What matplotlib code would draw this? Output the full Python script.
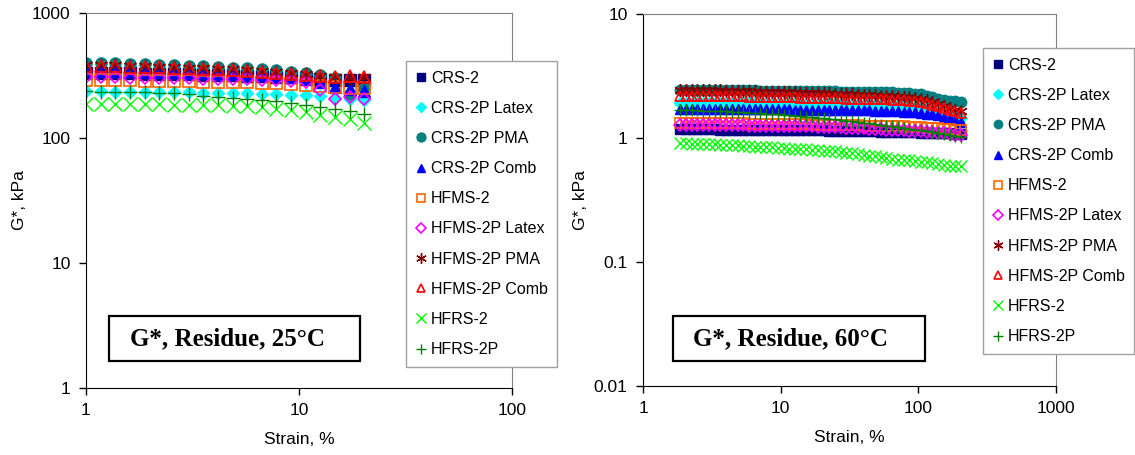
import matplotlib
matplotlib.use("Agg")
import matplotlib.pyplot as plt
from matplotlib.patches import Rectangle
from matplotlib import ticker

plt.rcParams['font.family'] = ['Liberation Sans', 'DejaVu Sans']

# series names (same order as the legend)
names = ["CRS-2", "CRS-2P Latex", "CRS-2P PMA", "CRS-2P Comb", "HFMS-2",
         "HFMS-2P Latex", "HFMS-2P PMA", "HFMS-2P Comb", "HFRS-2", "HFRS-2P"]

# ---- 25 C data (strain %, G* kPa) ----
strain_25 = [1.00, 1.17, 1.37, 1.61, 1.89, 2.21, 2.59, 3.03, 3.55, 4.16,
             4.88, 5.71, 6.69, 7.84, 9.19, 10.8, 12.6, 14.8, 17.3, 20.3]

crs2_25 = [332, 331, 330, 329, 328, 327, 326, 324, 322, 320, 318, 316, 313, 310, 306, 302, 298, 292, 290, 292]
crs2p_latex_25 = [236, 236, 235, 235, 234, 234, 233, 232, 231, 230, 229, 228, 226, 224, 222, 219, 215, 208, 204, 200]
crs2p_pma_25 = [400, 398, 396, 393, 390, 386, 383, 378, 374, 370, 366, 360, 354, 348, 340, 332, 318, 300, 225, 250]
crs2p_comb_25 = [345, 344, 343, 342, 340, 338, 336, 334, 331, 328, 325, 321, 317, 312, 306, 298, 280, 255, 245, 238]
hfms2_25 = [292, 291, 290, 289, 288, 287, 286, 285, 283, 282, 280, 278, 276, 274, 271, 267, 262, 258, 252, 250]
hfms2p_latex_25 = [306, 305, 305, 304, 303, 302, 301, 300, 299, 298, 296, 294, 292, 289, 286, 280, 240, 207, 214, 204]
hfms2p_pma_25 = [385, 383, 381, 378, 376, 373, 370, 366, 362, 358, 354, 349, 343, 337, 330, 323, 315, 305, 300, 305]
hfms2p_comb_25 = [378, 377, 375, 373, 371, 368, 365, 362, 358, 354, 350, 345, 340, 334, 328, 322, 316, 310, 314, 308]
hfrs2_25 = [188, 188, 187, 187, 186, 186, 185, 185, 184, 183, 181, 179, 177, 172, 167, 160, 154, 148, 141, 132]
hfrs2p_25 = [236, 235, 235, 234, 233, 229, 227, 224, 218, 214, 210, 205, 200, 196, 192, 184, 178, 170, 163, 156]

# ---- 60 C data ----
strain_60 = [1.86, 2.05, 2.26, 2.48, 2.73, 3.01, 3.31, 3.64, 4.01, 4.41,
             4.86, 5.35, 5.88, 6.48, 7.13, 7.84, 8.63, 9.50, 10.5, 11.5,
             12.7, 13.9, 15.3, 16.9, 18.6, 20.5, 22.5, 24.8, 27.3, 30.0,
             33.0, 36.4, 40.0, 44.0, 48.5, 53.3, 58.7, 64.6, 71.1, 78.3,
             86.1, 94.8, 104, 115, 126, 139, 153, 169, 186, 204]

crs2_60 = [1.18, 1.18, 1.18, 1.18, 1.18, 1.18, 1.18, 1.17, 1.17, 1.17,
           1.17, 1.17, 1.17, 1.17, 1.17, 1.16, 1.16, 1.16, 1.16, 1.16,
           1.16, 1.15, 1.15, 1.15, 1.15, 1.15, 1.14, 1.14, 1.14, 1.14,
           1.14, 1.13, 1.13, 1.13, 1.13, 1.12, 1.12, 1.12, 1.12, 1.11,
           1.11, 1.11, 1.10, 1.10, 1.10, 1.09, 1.09, 1.09, 1.08, 1.08]
crs2p_latex_60 = [1.92, 1.92, 1.92, 1.92, 1.92, 1.91, 1.91, 1.91, 1.91, 1.91,
                  1.91, 1.90, 1.90, 1.90, 1.90, 1.90, 1.90, 1.89, 1.89, 1.89,
                  1.89, 1.89, 1.89, 1.88, 1.88, 1.88, 1.88, 1.88, 1.87, 1.87,
                  1.87, 1.87, 1.86, 1.86, 1.86, 1.85, 1.85, 1.85, 1.84, 1.84,
                  1.83, 1.82, 1.80, 1.77, 1.73, 1.68, 1.62, 1.56, 1.50, 1.45]
crs2p_pma_60 = [2.44, 2.44, 2.44, 2.44, 2.44, 2.43, 2.43, 2.43, 2.43, 2.43,
                2.42, 2.42, 2.42, 2.42, 2.41, 2.41, 2.41, 2.41, 2.40, 2.40,
                2.40, 2.40, 2.39, 2.39, 2.39, 2.38, 2.38, 2.38, 2.37, 2.37,
                2.37, 2.36, 2.36, 2.35, 2.35, 2.34, 2.34, 2.33, 2.32, 2.31,
                2.30, 2.28, 2.25, 2.20, 2.13, 2.07, 2.02, 1.99, 1.97, 1.96]
crs2p_comb_60 = [1.72, 1.72, 1.72, 1.72, 1.72, 1.72, 1.71, 1.71, 1.71, 1.71,
                 1.71, 1.71, 1.71, 1.70, 1.70, 1.70, 1.70, 1.70, 1.70, 1.70,
                 1.69, 1.69, 1.69, 1.69, 1.69, 1.69, 1.68, 1.68, 1.68, 1.68,
                 1.68, 1.67, 1.67, 1.67, 1.66, 1.66, 1.65, 1.65, 1.64, 1.63,
                 1.62, 1.61, 1.59, 1.57, 1.55, 1.52, 1.49, 1.45, 1.40, 1.35]
hfms2_60 = [1.32, 1.32, 1.32, 1.32, 1.32, 1.31, 1.31, 1.31, 1.31, 1.31,
            1.31, 1.31, 1.30, 1.30, 1.30, 1.30, 1.30, 1.30, 1.29, 1.29,
            1.29, 1.29, 1.29, 1.28, 1.28, 1.28, 1.28, 1.28, 1.27, 1.27,
            1.27, 1.27, 1.26, 1.26, 1.26, 1.25, 1.25, 1.25, 1.24, 1.24,
            1.23, 1.23, 1.22, 1.21, 1.21, 1.20, 1.19, 1.18, 1.17, 1.16]
hfms2p_latex_60 = [1.28, 1.28, 1.28, 1.28, 1.28, 1.27, 1.27, 1.27, 1.27, 1.27,
                   1.27, 1.27, 1.26, 1.26, 1.26, 1.26, 1.26, 1.25, 1.25, 1.25,
                   1.25, 1.24, 1.24, 1.24, 1.23, 1.23, 1.23, 1.22, 1.22, 1.21,
                   1.21, 1.20, 1.20, 1.19, 1.19, 1.18, 1.17, 1.17, 1.16, 1.15,
                   1.14, 1.14, 1.13, 1.12, 1.11, 1.10, 1.09, 1.08, 1.06, 1.05]
hfms2p_pma_60 = [2.46, 2.45, 2.45, 2.44, 2.44, 2.43, 2.42, 2.42, 2.41, 2.40,
                 2.40, 2.39, 2.38, 2.38, 2.37, 2.36, 2.36, 2.35, 2.34, 2.34,
                 2.33, 2.32, 2.32, 2.31, 2.30, 2.30, 2.29, 2.28, 2.27, 2.26,
                 2.25, 2.24, 2.23, 2.22, 2.21, 2.20, 2.19, 2.18, 2.16, 2.15,
                 2.13, 2.10, 2.06, 2.01, 1.94, 1.87, 1.80, 1.74, 1.69, 1.65]
hfms2p_comb_60 = [2.20, 2.20, 2.20, 2.19, 2.19, 2.19, 2.18, 2.18, 2.18, 2.17,
                  2.17, 2.17, 2.16, 2.16, 2.15, 2.15, 2.15, 2.14, 2.14, 2.13,
                  2.13, 2.12, 2.12, 2.11, 2.11, 2.10, 2.10, 2.09, 2.09, 2.08,
                  2.08, 2.07, 2.07, 2.06, 2.06, 2.05, 2.05, 2.04, 2.03, 2.02,
                  2.00, 1.98, 1.95, 1.91, 1.86, 1.80, 1.74, 1.69, 1.64, 1.60]
hfrs2_60 = [0.91, 0.91, 0.90, 0.90, 0.89, 0.89, 0.89, 0.88, 0.88, 0.87,
            0.87, 0.86, 0.86, 0.85, 0.85, 0.84, 0.84, 0.83, 0.83, 0.82,
            0.82, 0.81, 0.81, 0.80, 0.80, 0.79, 0.78, 0.78, 0.77, 0.76,
            0.75, 0.74, 0.73, 0.72, 0.71, 0.70, 0.69, 0.68, 0.67, 0.66,
            0.66, 0.65, 0.64, 0.64, 0.63, 0.62, 0.61, 0.60, 0.60, 0.59]
hfrs2p_60 = [1.68, 1.68, 1.67, 1.67, 1.66, 1.66, 1.65, 1.64, 1.64, 1.63,
             1.62, 1.61, 1.60, 1.59, 1.58, 1.57, 1.56, 1.55, 1.54, 1.52,
             1.51, 1.50, 1.48, 1.47, 1.45, 1.44, 1.42, 1.41, 1.39, 1.37,
             1.36, 1.34, 1.32, 1.31, 1.29, 1.27, 1.26, 1.24, 1.22, 1.21,
             1.19, 1.17, 1.16, 1.14, 1.12, 1.10, 1.08, 1.06, 1.04, 1.02]

data_25 = [crs2_25, crs2p_latex_25, crs2p_pma_25, crs2p_comb_25, hfms2_25,
           hfms2p_latex_25, hfms2p_pma_25, hfms2p_comb_25, hfrs2_25, hfrs2p_25]
data_60 = [crs2_60, crs2p_latex_60, crs2p_pma_60, crs2p_comb_60, hfms2_60,
           hfms2p_latex_60, hfms2p_pma_60, hfms2p_comb_60, hfrs2_60, hfrs2p_60]

# marker, colour, filled
styles = [('s', '#000080', True), ('D', '#00FFFF', True), ('o', '#008080', True),
          ('^', '#0000FF', True), ('s', '#FF6600', False), ('D', '#FF00FF', False),
          ((6, 2, 0), '#800000', True), ('^', '#FF0000', False),
          ('x', '#00FF00', True), ('+', '#008000', True)]

W, H = 1135, 455
fig = plt.figure(figsize=(W / 100, H / 100), dpi=100)


def px_axes(x0, y0, x1, y1):
    # axes from pixel box (top-left origin)
    return fig.add_axes([x0 / W, 1 - y1 / H, (x1 - x0) / W, (y1 - y0) / H])


def draw_panel(ax, strain, series, ms, xlim, ylim, yticks, xticks, label, box, text_xy, legend_xy):
    for (mk, col, filled), vals, name in zip(styles, series, names):
        sz = ms * 0.8 if mk == 'D' else ms
        if mk in ('x', '+', (6, 2, 0)):
            ax.plot(strain, vals, ls='none', marker=mk, ms=sz + 1.5, color=col, mew=1.0, label=name)
        elif filled:
            ax.plot(strain, vals, ls='none', marker=mk, ms=sz, color=col, mec=col, label=name)
        else:
            ax.plot(strain, vals, ls='none', marker=mk, ms=sz, mfc='none', mec=col, mew=1.2, label=name)
    ax.set_xscale('log')
    ax.set_yscale('log')
    ax.set_xlim(*xlim)
    ax.set_ylim(*ylim)
    ax.xaxis.set_major_locator(ticker.FixedLocator(xticks))
    ax.yaxis.set_major_locator(ticker.FixedLocator(yticks))
    ax.xaxis.set_minor_locator(ticker.NullLocator())
    ax.yaxis.set_minor_locator(ticker.NullLocator())
    ax.xaxis.set_major_formatter(ticker.FormatStrFormatter('%g'))
    ax.yaxis.set_major_formatter(ticker.FormatStrFormatter('%g'))
    ax.tick_params(direction='out', length=5, width=1, labelsize=12.5, pad=6)
    for s in ('top', 'right'):
        ax.spines[s].set_color('#808080')
    ax.set_xlabel("Strain, %", fontsize=12.5, labelpad=10)
    ax.set_ylabel("G*, kPa", fontsize=12.5, labelpad=4)
    # title box
    ax.add_patch(Rectangle((box[0], box[1]), box[2] - box[0], box[3] - box[1],
                           transform=ax.transAxes, fill=False, lw=1.6, ec='black', zorder=5))
    ax.text(text_xy[0], text_xy[1], label, transform=ax.transAxes, ha='center', va='center',
            family='Liberation Serif', fontweight='bold', fontsize=18, zorder=6)
    leg = ax.legend(loc='upper left', bbox_to_anchor=(legend_xy[0] / W, 1 - legend_xy[1] / H),
                    bbox_transform=fig.transFigure, fontsize=11.5, frameon=True, fancybox=False,
                    edgecolor='#a0a0a0', framealpha=1, borderaxespad=0, borderpad=0.6,
                    labelspacing=0.95, handlelength=0.7, handletextpad=0.25, numpoints=1,
                    markerscale=0.8)
    leg.get_frame().set_linewidth(1.0)
    leg.set_zorder(10)


ax1 = px_axes(86, 13, 512, 388)
draw_panel(ax1, strain_25, data_25, 8, (1, 100), (1, 1000), [1, 10, 100, 1000], [1, 10, 100],
           "G*, Residue, 25°C", (0.054, 0.072, 0.643, 0.192), (0.331, 0.132), (406, 61))

ax2 = px_axes(643, 14, 1056, 386)
draw_panel(ax2, strain_60, data_60, 7.5, (1, 1000), (0.01, 10), [0.01, 0.1, 1, 10], [1, 10, 100, 1000],
           "G*, Residue, 60°C", (0.073, 0.067, 0.683, 0.188), (0.358, 0.128), (983, 48))

fig.savefig("out.png", dpi=100)
